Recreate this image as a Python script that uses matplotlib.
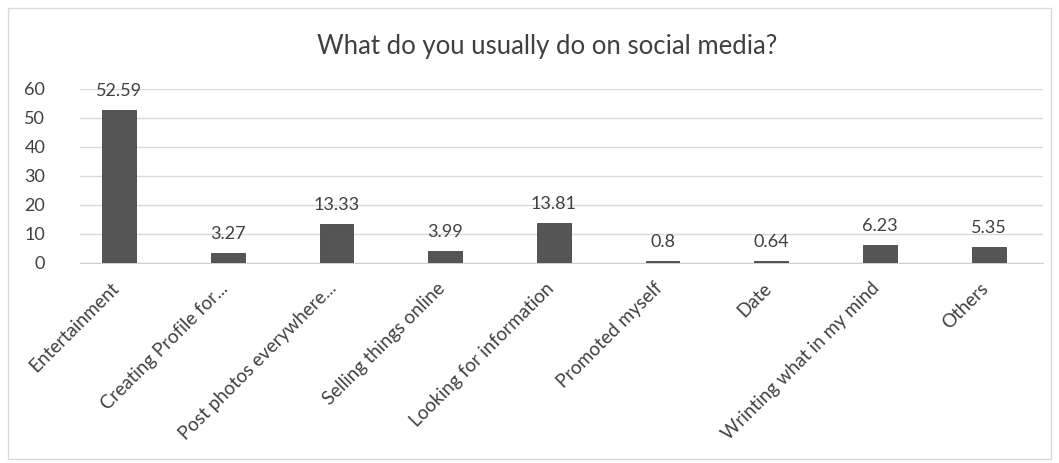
import matplotlib
matplotlib.use("Agg")
import matplotlib.pyplot as plt
import matplotlib.transforms as mtransforms
from matplotlib.patches import Rectangle

categories = ["Entertainment", "Creating Profile for...", "Post photos everywhere...",
              "Selling things online", "Looking for information", "Promoted myself",
              "Date", "Wrinting what in my mind", "Others"]
values = [52.59, 3.27, 13.33, 3.99, 13.81, 0.8, 0.64, 6.23, 5.35]
value_labels = ["52.59", "3.27", "13.33", "3.99", "13.81", "0.8", "0.64", "6.23", "5.35"]
yticks = [0, 10, 20, 30, 40, 50, 60]

plt.rcParams['font.family'] = ['Lato', 'DejaVu Sans']
txt = '#404040'

fig = plt.figure(figsize=(10.59, 4.63), dpi=100)
fig.patches.append(Rectangle((0.008, 0.008), 0.984, 0.975, transform=fig.transFigure,
                             fill=False, edgecolor='#d9d9d9', linewidth=1))
ax = fig.add_axes([0.0755, 0.432, 0.9095, 0.376])

x = list(range(len(categories)))
bars = ax.bar(x, values, width=0.31, color='#555555', edgecolor='#444444', linewidth=0.6, zorder=3)
for b, lab in zip(bars, value_labels):
    ax.annotate(lab, (b.get_x() + b.get_width() / 2, b.get_height()),
                xytext=(0, 8), textcoords='offset points', ha='center', va='bottom',
                fontsize=13, color=txt)

ax.set_xlim(-0.36, 8.5)
ax.set_ylim(0, 60)
ax.set_yticks(yticks)
ax.yaxis.grid(True, color='#d9d9d9', linewidth=1, zorder=0)
for s in ['top', 'right', 'left']:
    ax.spines[s].set_visible(False)
ax.spines['bottom'].set_color('#d0d0d0')
ax.tick_params(axis='y', length=0, pad=25, labelsize=13, labelcolor=txt)
ax.tick_params(axis='x', length=0, pad=12, labelsize=13.5, labelcolor=txt)
ax.set_xticks(x)
ax.set_xticklabels(categories, rotation=45, ha='right', rotation_mode='anchor')
shift = mtransforms.ScaledTranslation(-9 / 100, 0, fig.dpi_scale_trans)
for lbl in ax.get_xticklabels():
    lbl.set_transform(lbl.get_transform() + shift)

fig.text(0.517, 0.9, "What do you usually do on social media?", ha='center', va='center',
         fontsize=18.5, color=txt)

fig.savefig("out.png", dpi=100)
